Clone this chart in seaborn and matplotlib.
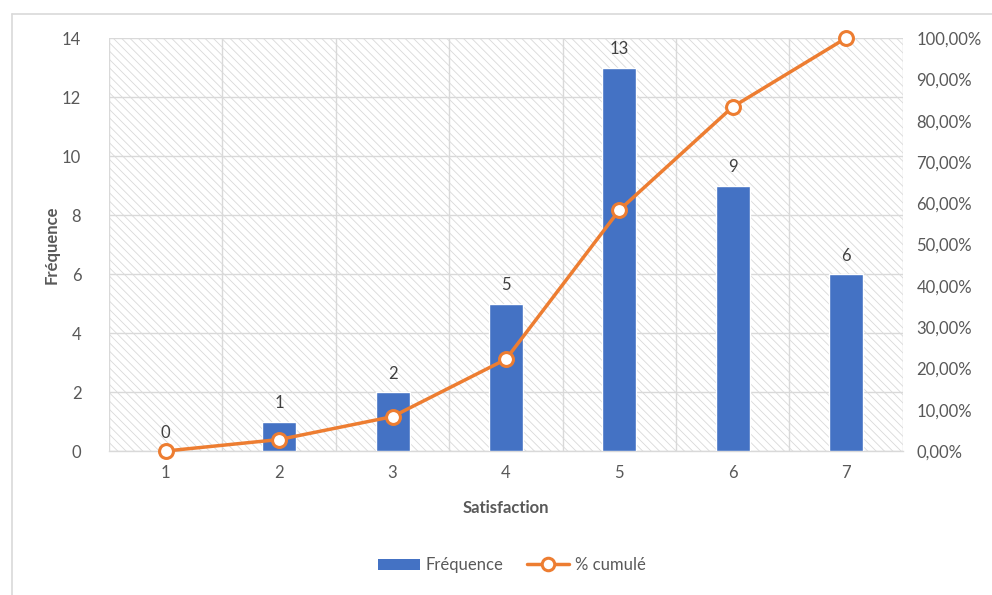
import numpy as np
import pandas as pd
import matplotlib
matplotlib.use("Agg")
import matplotlib.pyplot as plt
import seaborn as sns
from matplotlib.patches import Rectangle
from matplotlib.lines import Line2D
from matplotlib.ticker import FuncFormatter, FixedLocator

categories = ["1", "2", "3", "4", "5", "6", "7"]
frequence = [0, 1, 2, 5, 13, 9, 6]
cumul_pct = [0.0, 2.78, 8.33, 22.22, 58.33, 83.33, 100.0]
left_ticks = [0, 2, 4, 6, 8, 10, 12, 14]
right_ticks = [0, 10, 20, 30, 40, 50, 60, 70, 80, 90, 100]

sns.set_theme(style="white")
plt.rcParams['font.family'] = ['Lato', 'DejaVu Sans']
plt.rcParams['hatch.linewidth'] = 0.6

BLUE = "#4472C4"
ORANGE = "#ED7D31"
GRID = "#d9d9d9"
TXT = "#595959"

fig = plt.figure(figsize=(9.92, 5.95), dpi=100)
ax = fig.add_axes([0.110, 0.242, 0.800, 0.694])

df = pd.DataFrame({"Satisfaction": categories, "Fréquence": frequence})

# hatched background
ax.add_patch(Rectangle((0, 0), 1, 1, transform=ax.transAxes, facecolor="none",
                       edgecolor=GRID, linewidth=0, hatch="\\\\\\\\", zorder=0))

sns.barplot(data=df, x="Satisfaction", y="Fréquence", color=BLUE, width=0.3,
            saturation=1, ax=ax, zorder=3)

ax.set_xlim(-0.5, len(categories) - 0.5)
ax.set_ylim(0, 14)
ax.set_yticks(left_ticks)
ax.yaxis.set_minor_locator(FixedLocator([]))
ax.xaxis.set_minor_locator(FixedLocator(np.arange(-0.5, len(categories), 1.0)))
ax.grid(axis="y", which="major", color=GRID, linewidth=1, zorder=1)
ax.grid(axis="x", which="minor", color=GRID, linewidth=1, zorder=1)
ax.grid(axis="x", which="major", visible=False)
ax.set_axisbelow(True)
ax.tick_params(axis="x", which="major", length=0, pad=10, labelsize=12, labelcolor=TXT)
ax.tick_params(axis="x", which="minor", length=6, width=1, color=GRID, direction="out")
ax.tick_params(axis="y", length=0, pad=20, labelsize=12, labelcolor=TXT)
for s in ["top", "right", "left"]:
    ax.spines[s].set_visible(False)
ax.spines["bottom"].set_color(GRID)
ax.spines["bottom"].set_linewidth(1)
ax.set_xlabel("Satisfaction", fontsize=12, fontweight="bold", color=TXT, labelpad=14)
ax.set_ylabel("Fréquence", fontsize=12, fontweight="bold", color=TXT, labelpad=2)

for i, v in enumerate(frequence):
    ax.text(i, v + 0.35, str(v), ha="center", va="bottom", fontsize=12, color="#404040", zorder=5)

ax2 = ax.twinx()
sns.lineplot(x=np.arange(len(categories)), y=cumul_pct, ax=ax2, color=ORANGE,
             linewidth=2.5, marker="o", markersize=10, markerfacecolor="white",
             markeredgecolor=ORANGE, markeredgewidth=2.2, zorder=6, clip_on=False)
ax2.set_xlim(-0.5, len(categories) - 0.5)
ax2.set_ylim(0, 100)
ax2.set_yticks(right_ticks)
ax2.yaxis.set_major_formatter(FuncFormatter(lambda v, p: f"{v:.2f}%".replace(".", ",")))
ax2.tick_params(axis="y", length=0, pad=10, labelsize=12, labelcolor=TXT)
ax2.set_ylabel("")
for s in ax2.spines.values():
    s.set_visible(False)

handles = [
    Rectangle((0, 0), 1, 1, facecolor=BLUE, edgecolor="none"),
    Line2D([0], [0], color=ORANGE, linewidth=2.5, marker="o", markersize=9,
           markerfacecolor="white", markeredgecolor=ORANGE, markeredgewidth=2.2),
]
fig.legend(handles, ["Fréquence", "% cumulé"], loc="center", bbox_to_anchor=(0.516, 0.05),
           ncol=2, frameon=False, fontsize=12, labelcolor=TXT, handlelength=2.5,
           columnspacing=1.4, handletextpad=0.36)

# outer chart frame (partial)
fig.add_artist(Line2D([12 / 992, 12 / 992], [0, 1 - 14 / 595], color=GRID, linewidth=1.2))
fig.add_artist(Line2D([12 / 992, 1], [1 - 14 / 595, 1 - 14 / 595], color=GRID, linewidth=1.2))

fig.savefig("out.png", dpi=100, facecolor="white")
